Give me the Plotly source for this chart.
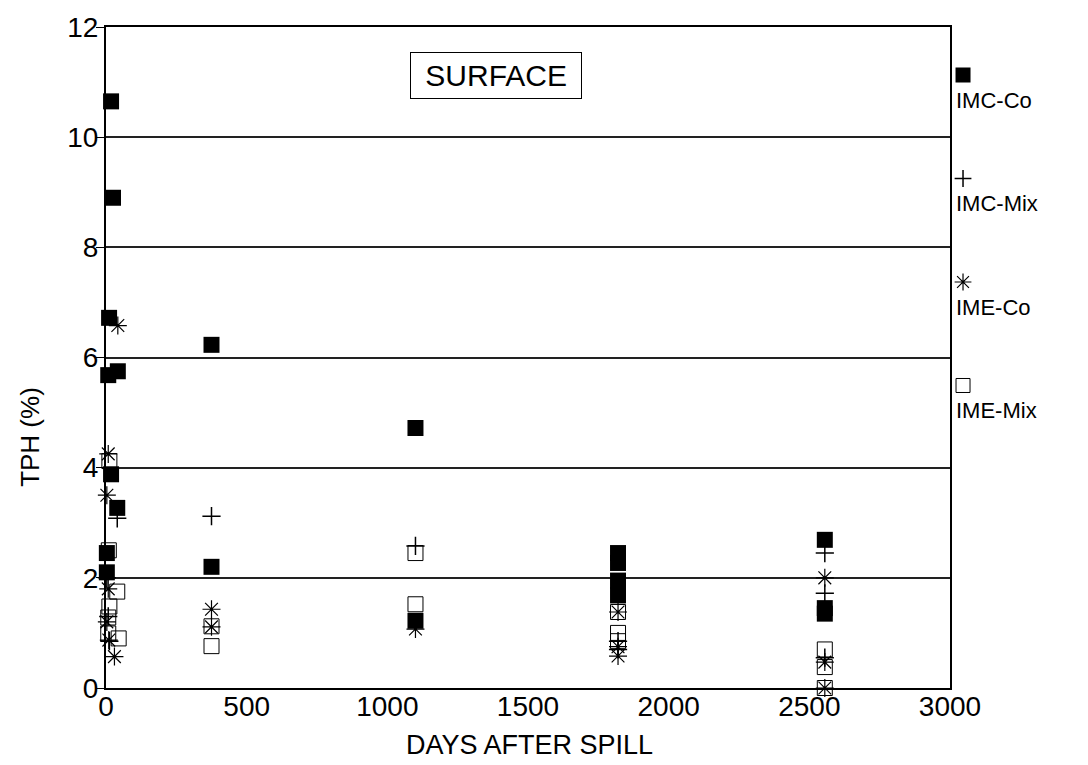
import plotly.graph_objects as go

# ---- data ----
imc_co_days = [18, 25, 11, 8, 42, 18, 40, 3, 3, 375, 375, 1100, 1100, 1820, 1820, 1820, 1820, 2555, 2555, 2555]
imc_co_tph = [10.65, 8.9, 6.72, 5.68, 5.75, 3.88, 3.27, 2.45, 2.1, 6.23, 2.2, 4.72, 1.22, 2.45, 2.27, 1.95, 1.68, 2.69, 1.45, 1.35]

imc_mix_days = [40, 3, 8, 12, 375, 1100, 1820, 1820, 2555, 2555, 2555]
imc_mix_tph = [3.08, 2.0, 1.3, 0.85, 3.12, 2.58, 0.85, 0.7, 2.45, 1.72, 0.55]

ime_co_days = [42, 8, 3, 8, 3, 10, 30, 375, 375, 1100, 1820, 1820, 1820, 2555, 2555, 2555]
ime_co_tph = [6.58, 4.25, 3.5, 1.8, 1.2, 0.87, 0.57, 1.43, 1.11, 1.07, 1.38, 0.75, 0.58, 2.0, 0.47, 0.0]

ime_mix_days = [12, 10, 40, 12, 8, 8, 45, 375, 375, 1100, 1100, 1820, 1820, 1820, 2555, 2555, 2555]
ime_mix_tph = [4.12, 2.5, 1.75, 1.48, 1.28, 0.99, 0.9, 1.12, 0.76, 2.45, 1.52, 1.38, 1.0, 0.85, 0.7, 0.38, 0.0]

series_names = ["IMC-Co", "IMC-Mix", "IME-Co", "IME-Mix"]
x_ticks = [0, 500, 1000, 1500, 2000, 2500, 3000]
y_ticks = [0, 2, 4, 6, 8, 10, 12]

FONT = "Liberation Sans, Arial, sans-serif"

styles = [
    dict(symbol="square", size=16, color="black", line=dict(width=0, color="black")),
    dict(symbol="cross-thin", size=13, color="black", line=dict(width=1.5, color="black")),
    dict(symbol="asterisk-open", size=15, color="black", line=dict(width=1.2, color="black")),
    dict(symbol="square-open", size=15, color="black", line=dict(width=1, color="black")),
]

fig = go.Figure()
data = [(imc_co_days, imc_co_tph), (imc_mix_days, imc_mix_tph),
        (ime_co_days, ime_co_tph), (ime_mix_days, ime_mix_tph)]
for (xs, ys), name, st in zip(data, series_names, styles):
    fig.add_trace(go.Scatter(x=xs, y=ys, mode="markers", name=name,
                             marker=st, cliponaxis=False, showlegend=False))

# custom legend (marker above label) on a hidden overlay axis, 1 unit = one legend row
leg_rows = [3, 2, 1, 0]
leg_styles = [dict(st, size=st["size"] - 1) for st in styles]
for yy, name, st in zip(leg_rows, series_names, leg_styles):
    fig.add_trace(go.Scatter(x=[12.5], y=[yy], mode="markers", marker=st,
                             xaxis="x2", yaxis="y2", showlegend=False, hoverinfo="skip"))
    fig.add_annotation(x=3, y=yy - 0.245, xref="x2", yref="y2", text=name, showarrow=False,
                       xanchor="left", yanchor="middle",
                       font=dict(family=FONT, size=22, color="black"))

fig.add_annotation(x=0.462, y=0.926, xref="x domain", yref="y domain",
                   text="\u00a0SURFACE\u00a0",
                   showarrow=False, xanchor="center", yanchor="middle",
                   font=dict(family=FONT, size=30, color="black"),
                   bordercolor="black", borderwidth=1, borderpad=6, bgcolor="white")

# axis titles
fig.add_annotation(x=0.502, y=-0.086, xref="x domain", yref="y domain",
                   text="DAYS AFTER SPILL", showarrow=False,
                   xanchor="center", yanchor="middle",
                   font=dict(family=FONT, size=27, color="black"))
fig.add_annotation(x=-0.09, y=0.38, xref="x domain", yref="y domain",
                   text="TPH (%)", showarrow=False, textangle=-90,
                   xanchor="center", yanchor="middle",
                   font=dict(family=FONT, size=26, color="black"))

fig.update_layout(
    width=1088, height=765,
    margin=dict(l=106, r=0, t=27, b=77),
    paper_bgcolor="white", plot_bgcolor="white",
    font=dict(family=FONT, size=26, color="black"),
    xaxis=dict(domain=[0, 844 / 982], range=[0, 3000], tickvals=x_ticks,
               ticktext=[str(v) for v in x_ticks], automargin=False,
               showgrid=False, zeroline=False, showline=True, linecolor="black",
               linewidth=2, mirror=True, ticks="", ticklabelstandoff=-8,
               tickfont=dict(size=28)),
    yaxis=dict(range=[0, 12], tickvals=y_ticks, ticktext=[str(v) for v in y_ticks],
               automargin=False,
               showgrid=True, gridcolor="#222222", gridwidth=1.5, zeroline=False,
               showline=True, linecolor="black", linewidth=2, mirror=True,
               ticks="outside", ticklen=8, tickcolor="black", ticklabelstandoff=-8,
               tickfont=dict(size=28)),
    xaxis2=dict(domain=[0.86, 1.0], range=[0, 137.5], visible=False, anchor="y2"),
    yaxis2=dict(domain=[0, 1], range=[-2.923, 3.464], visible=False, anchor="x2"),
)

fig.write_html("out.html")
